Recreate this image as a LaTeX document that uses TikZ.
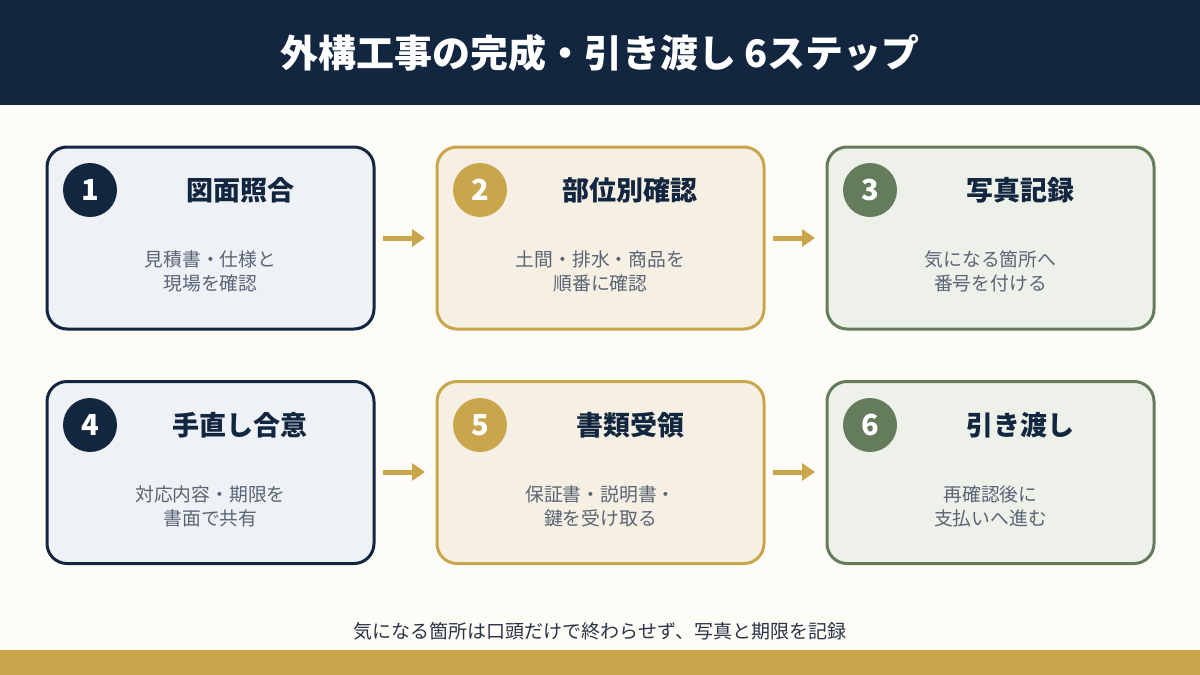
\documentclass[tikz,border=0pt]{standalone}
\usepackage{fontspec}
\setmainfont{Noto Sans CJK JP}
\usetikzlibrary{arrows.meta}
\definecolor{navy}{HTML}{12263F}
\definecolor{cream}{HTML}{FDFCF6}
\definecolor{gold}{HTML}{C9A54C}
\definecolor{green}{HTML}{647C5C}
\definecolor{fillA}{HTML}{EEF2F7}
\definecolor{fillB}{HTML}{F5F0E3}
\definecolor{fillC}{HTML}{EDF1EA}
\definecolor{descc}{HTML}{5B6475}
\definecolor{footc}{HTML}{2B3447}
\tikzset{
  card/.style={draw=#1, line width=3pt, rounded corners=20pt, minimum width=327pt, minimum height=182pt, inner sep=0pt},
  badge/.style={circle, fill=#1, minimum size=54pt, inner sep=0pt, text=white, font=\fontsize{29}{29}\selectfont\bfseries},
  ttl/.style={text=navy, font=\fontsize{27}{27}\selectfont\bfseries, anchor=center},
  desc/.style={text=descc, font=\fontsize{18.8}{24}\selectfont, align=center, anchor=center},
  flow/.style={draw=gold, line width=5pt, -{Triangle[length=13pt,width=17pt]}}
}
\begin{document}
\begin{tikzpicture}[x=1pt,y=-1pt]
\useasboundingbox (0,0) rectangle (1200,675);
\fill[cream] (0,0) rectangle (1200,675);
\fill[navy] (0,0) rectangle (1200,105);
\node[text=white, font=\fontsize{38}{38}\selectfont\bfseries] (title) at (600,53) {外構工事の完成・引き渡し 6ステップ};
% cards
\node[card=navy, fill=fillA] (c1) at (210.5,238) {};
\node[card=gold, fill=fillB] (c2) at (600.5,238) {};
\node[card=green, fill=fillC] (c3) at (990.5,238) {};
\node[card=navy, fill=fillA] (c4) at (210.5,472.5) {};
\node[card=gold, fill=fillB] (c5) at (600.5,472.5) {};
\node[card=green, fill=fillC] (c6) at (990.5,472.5) {};
% badges
\node[badge=navy] (b1) at (90,190) {1};
\node[badge=gold] (b2) at (480,190) {2};
\node[badge=green] (b3) at (870,190) {3};
\node[badge=navy] (b4) at (90,425) {4};
\node[badge=gold] (b5) at (480,425) {5};
\node[badge=green] (b6) at (870,425) {6};
% titles
\node[ttl] (t1) at (240,190) {図面照合};
\node[ttl] (t2) at (630,190) {部位別確認};
\node[ttl] (t3) at (1020,190) {写真記録};
\node[ttl] (t4) at (240,425) {手直し合意};
\node[ttl] (t5) at (630,425) {書類受領};
\node[ttl] (t6) at (1020,425) {引き渡し};
% descriptions
\node[desc] (d1) at (210.5,271) {見積書・仕様と\\現場を確認};
\node[desc] (d2) at (600.5,271) {土間・排水・商品を\\順番に確認};
\node[desc] (d3) at (990.5,271) {気になる箇所へ\\番号を付ける};
\node[desc] (d4) at (210.5,506) {対応内容・期限を\\書面で共有};
\node[desc] (d5) at (600.5,506) {保証書・説明書・\\鍵を受け取る};
\node[desc] (d6) at (990.5,506) {再確認後に\\支払いへ進む};
% arrows
\coordinate (a1s) at (383,238); \coordinate (a1e) at (425,238);
\coordinate (a2s) at (773,238); \coordinate (a2e) at (815,238);
\coordinate (a4s) at (383,472); \coordinate (a4e) at (425,472);
\coordinate (a5s) at (773,472); \coordinate (a5e) at (815,472);
\draw[flow] (a1s) -- (a1e);
\draw[flow] (a2s) -- (a2e);
\draw[flow] (a4s) -- (a4e);
\draw[flow] (a5s) -- (a5e);
% footer
\node[text=footc, font=\fontsize{19}{20}\selectfont] (foot) at (600,631) {気になる箇所は口頭だけで終わらせず、写真と期限を記録};
\fill[gold] (0,650) rectangle (1200,675);
\end{tikzpicture}
\end{document}
